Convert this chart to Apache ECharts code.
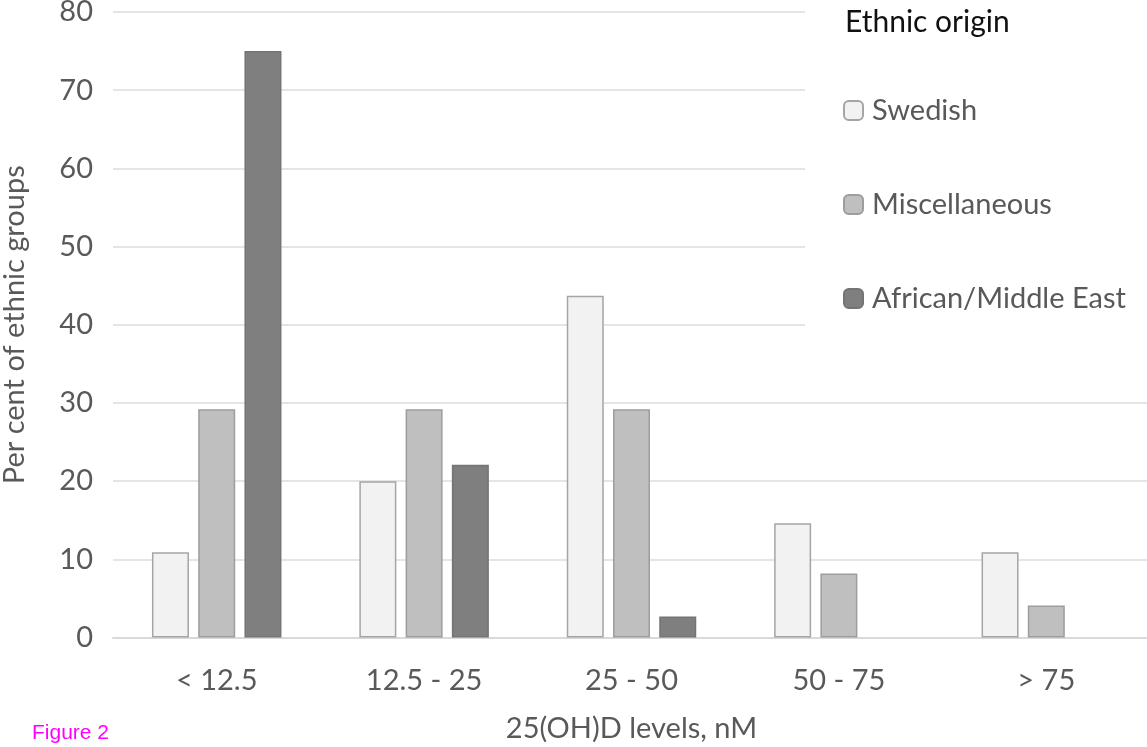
<!DOCTYPE html>
<html>
<head>
<meta charset="utf-8">
<script src="https://cdn.jsdelivr.net/npm/echarts@6/dist/echarts.min.js"></script>
<style>html,body{margin:0;padding:0;background:#fff;}#c{width:1147px;height:747px;}</style>
</head>
<body>
<div id="c"></div>
<script>
const categories = ['< 12.5', '12.5 - 25', '25 - 50', '50 - 75', '> 75'];
const swedish = [10.9, 20, 43.7, 14.6, 10.9];
const miscellaneous = [29.2, 29.2, 29.2, 8.2, 4.1];
const africanMiddleEast = [75, 22.1, 2.7, null, null];
const seriesNames = ['Swedish', 'Miscellaneous', 'African/Middle East'];
const yTicks = { min: 0, max: 80, interval: 10 };

const FONT = 'Lato';
const FS = 29;
const chart = echarts.init(document.getElementById('c'), null, { renderer: 'canvas' });
const styles = [
  { color: '#f2f2f2', borderColor: '#a5a5a5' },
  { color: '#bfbfbf', borderColor: '#9d9d9d' },
  { color: '#7f7f7f', borderColor: '#747474' }
];
const values = [swedish, miscellaneous, africanMiddleEast];
chart.setOption({
  animation: false,
  backgroundColor: '#fff',
  grid: { left: 113, top: 12, width: 1037, height: 625.5, containLabel: false, outerBoundsMode: 'none' },
  title: [{
    text: 'Ethnic origin', left: 840, top: 2,
    textStyle: { fontFamily: FONT, fontSize: 30, fontWeight: 'normal', color: '#111' }
  }, {
    text: 'Figure 2', left: 27, top: 718,
    textStyle: { fontFamily: 'Liberation Sans', fontSize: 21, fontWeight: 'normal', color: '#ff00ff' }
  }],
  legend: {
    orient: 'vertical', left: 805, top: 0,
    padding: [96, 30, 30, 38],
    backgroundColor: '#fff',
    itemWidth: 19, itemHeight: 19, itemGap: 65,
    data: seriesNames,
    textStyle: { fontFamily: FONT, fontSize: FS, color: '#595959', padding: [0, 0, 0, 4] }
  },
  xAxis: {
    type: 'category', data: categories,
    name: '25(OH)D levels, nM', nameLocation: 'middle', nameGap: 77,
    nameTextStyle: { fontFamily: FONT, fontSize: FS, color: '#595959' },
    axisLine: { show: true, lineStyle: { color: '#d9d9d9', width: 2 } },
    axisTick: { show: false },
    axisLabel: { fontFamily: FONT, fontSize: FS, color: '#595959', margin: 29 }
  },
  yAxis: {
    type: 'value', min: yTicks.min, max: yTicks.max, interval: yTicks.interval,
    name: 'Per cent of ethnic groups', nameLocation: 'middle', nameGap: 84,
    nameTextStyle: { fontFamily: FONT, fontSize: FS, color: '#595959' },
    axisLine: { show: false }, axisTick: { show: false },
    splitLine: { lineStyle: { color: '#e5e5e5', width: 2 } },
    axisLabel: { fontFamily: FONT, fontSize: FS, color: '#595959', margin: 20 }
  },
  series: seriesNames.map((n, i) => ({
    name: n, type: 'bar', data: values[i],
    barWidth: 37, barGap: '25%',
    itemStyle: { color: styles[i].color, borderColor: styles[i].borderColor, borderWidth: 1.5 }
  }))
});
</script>
</body>
</html>
